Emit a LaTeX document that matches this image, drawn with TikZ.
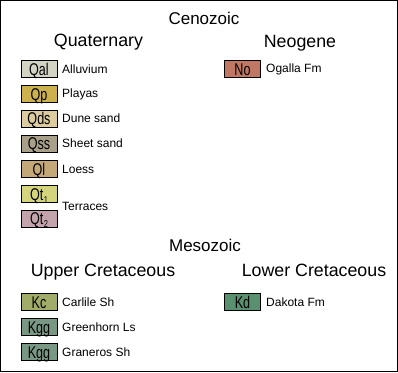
\documentclass[tikz,border=0pt]{standalone}
\usepackage{fontspec}
\setmainfont{Liberation Sans}
\usepackage{graphicx}
\definecolor{cQal}{HTML}{D4D4C4}
\definecolor{cQp}{HTML}{CCB14E}
\definecolor{cQds}{HTML}{DCCCA0}
\definecolor{cQss}{HTML}{A8A088}
\definecolor{cQl}{HTML}{C4A878}
\definecolor{cQtone}{HTML}{D4D47C}
\definecolor{cQttwo}{HTML}{C4A4AC}
\definecolor{cNo}{HTML}{C07864}
\definecolor{cKc}{HTML}{A0AC68}
\definecolor{cKgg}{HTML}{789884}
\definecolor{cKd}{HTML}{589070}
\newcommand{\ut}[1]{\scalebox{0.74}[1]{#1}}
\newcommand{\usub}[1]{\kern0.8pt{\fontsize{10}{10}\selectfont\raisebox{-3pt}{#1}}}
\begin{document}
\begin{tikzpicture}[x=1pt,y=-1pt,
  unitbox/.style={draw=black, line width=0.9pt, minimum width=36pt, minimum height=17pt,
    inner sep=0pt, text height=12.2pt, text depth=0pt, font=\fontsize{17}{18}\selectfont},
  desc/.style={anchor=west, inner sep=0pt, font=\fontsize{12}{14}\selectfont},
  era/.style={anchor=base, inner sep=0pt, font=\fontsize{17}{20}\selectfont},
  period/.style={anchor=base, inner sep=0pt, font=\fontsize{17.8}{20}\selectfont}]
\useasboundingbox (0,0) rectangle (398,372);
\draw[line width=1pt] (0.5,0.5) rectangle (397.5,371.5);
% titles
\node[era] (ceno) at (204,24) {Cenozoic};
\node[period] (quat) at (98.5,46) {Quaternary};
\node[period] (neo) at (300,47) {Neogene};
\node[era] (meso) at (205,251) {Mesozoic};
\node[period] (upk) at (103,276) {Upper Cretaceous};
\node[period] (lok) at (314,276) {Lower Cretaceous};
% Quaternary units
\node[unitbox, fill=cQal] (qal) at (39,69) {\ut{Qal}};
\node[desc] (qald) at (62,69) {Alluvium};
\node[unitbox, fill=cQp] (qp) at (39,94) {\ut{Qp}};
\node[desc] (qpd) at (62,94) {Playas};
\node[unitbox, fill=cQds] (qds) at (39,118.5) {\ut{Qds}};
\node[desc] (qdsd) at (62,118.5) {Dune sand};
\node[unitbox, fill=cQss] (qss) at (39,143.5) {\ut{Qss}};
\node[desc] (qssd) at (62,143.5) {Sheet sand};
\node[unitbox, fill=cQl] (ql) at (39,169) {\ut{Ql}};
\node[desc] (qld) at (62,169) {Loess};
\node[unitbox, fill=cQtone] (qt1) at (39,194) {\ut{Qt\usub{1}}};
\node[unitbox, fill=cQttwo] (qt2) at (39,218.5) {\ut{Qt\usub{2}}};
\node[desc] (qtd) at (62,206.5) {Terraces};
% Neogene
\node[unitbox, fill=cNo] (no) at (242.5,69) {\ut{No}};
\node[desc] (nod) at (266,69) {Ogalla Fm};
% Upper Cretaceous
\node[unitbox, fill=cKc] (kc) at (39,302) {\ut{Kc}};
\node[desc] (kcd) at (62,302) {Carlile Sh};
\node[unitbox, fill=cKgg] (kgg1) at (39,327) {\ut{Kgg}};
\node[desc] (kgg1d) at (62,327) {Greenhorn Ls};
\node[unitbox, fill=cKgg] (kgg2) at (39,352) {\ut{Kgg}};
\node[desc] (kgg2d) at (62,352) {Graneros Sh};
% Lower Cretaceous
\node[unitbox, fill=cKd] (kd) at (242.5,302) {\ut{Kd}};
\node[desc] (kdd) at (266,302) {Dakota Fm};
\end{tikzpicture}
\end{document}
